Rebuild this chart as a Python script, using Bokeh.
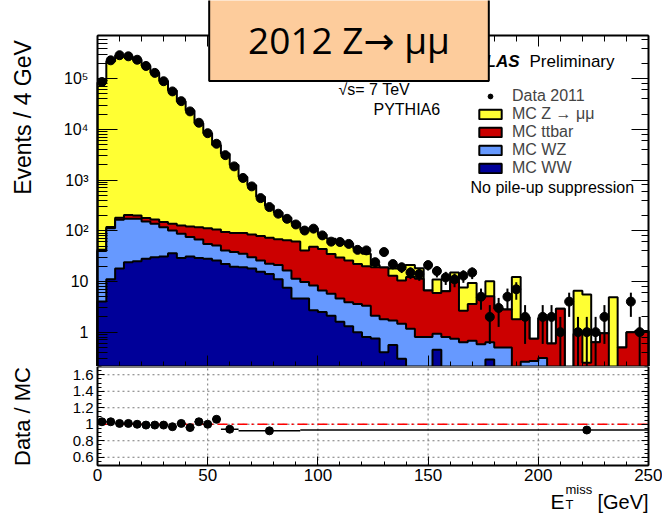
import numpy as np
from bokeh.plotting import figure
from bokeh.layouts import column
from bokeh.models import (Range1d, LogAxis, LinearAxis, FixedTicker,
                          SingleIntervalTicker, CustomJSTickFormatter, Label, Legend,
                          LegendItem)
from bokeh.embed import file_html
from bokeh.resources import INLINE

# ---------------- data ----------------
bin_edges = list(range(0, 253, 4))  # 4 GeV bins, 0..252

mc_zmumu = [84000, 220000, 285000, 273000, 236000, 180000, 131000, 90000, 58000, 35500,
            23500, 13100, 8300, 4800, 3200, 1900, 1060, 706, 391, 238, 162, 115, 79, 64,
            64, 41, 35, 32, 30, 23, 15, 2, 0, 5, 10.5, 9, 7, 0, 5, 0, 5.3, 5, 5.7, 0, 5,
            0, 0, 10.4, 0, 0, 0, 0, 0, 0, 5.6, 5.25, 0, 0, 4.9, 0, 0, 0, 0]
mc_ttbar = [2, 6, 15, 32, 27, 26, 29, 31, 36, 40, 46, 50, 57, 55, 53, 52, 55, 54, 53, 50,
            47, 48.5, 50, 31, 40, 37, 29, 25, 22, 18.4, 16.7, 17, 17, 11.3, 9, 11, 10.5,
            5.8, 5.0, 5.6, 9.0, 2.0, 2.9, 4.3, 4.5, 2.4, 2.3, 1.8, 1.74, 0.47, 1.6, 0.6,
            2.9, 0, 0.93, 0.25, 0.63, 0.95, 0, 0.5, 1.0, 1.05, 1.05]
mc_wz = [36, 101, 147, 149, 148, 124, 107, 86, 65, 58, 44, 38, 27, 25, 19, 18.5, 16, 12,
         10.4, 8.4, 10, 9, 6.7, 5.1, 5.6, 4.1, 3.6, 3.0, 2.6, 2.6, 2.5, 1.35, 1.4, 1.14,
         1.16, 1.17, 0.8, 0.8, 0.48, 0.8, 0.74, 0.63, 0.68, 0.58, 0.34, 0.5, 0.5, 0, 0.26,
         0.27, 0.31, 0, 0, 0, 0, 0, 0, 0, 0, 0, 0, 0, 0]
mc_ww = [4, 11, 18, 24, 25, 28, 30, 31, 36, 29, 31, 29, 28, 26, 22, 19.5, 19, 18, 15.6, 14,
         11, 7.5, 4.6, 4.6, 2.7, 2.5, 2.1, 1.6, 1.3, 1.0, 0.8, 0.75, 0.4, 0.56, 0.3, 0, 0,
         0, 0.45, 0, 0, 0, 0, 0, 0.29, 0, 0, 0, 0, 0, 0, 0, 0, 0, 0, 0, 0, 0, 0, 0, 0, 0, 0]
data_2011 = [86000, 230000, 290000, 276000, 236000, 178000, 130000, 89000, 56000, 36000,
             22600, 13500, 8400, 5200, 3100, 1860, 1100, 750, 440, 293, 217, 172, 133, 101,
             110, 81, 61, 60, 55, 42, 41, 24, 38, 22, 19, 15, 14, 21, 16, 12, 11, 13, 15, 5,
             2, 3, 5, 7, 2, 0, 2, 2, 1, 4, 1, 1, 1, 2, 0, 0, 4, 1, 0]

ratio_edges = [0, 4, 8, 12, 16, 20, 24, 28, 32, 36, 40, 44, 48, 52, 56, 64, 92, 352]
ratio_vals = [1.03, 1.03, 1.01, 1.01, 1.00, 0.99, 0.99, 0.99, 0.97, 1.01, 0.96, 1.03, 1.00,
              1.06, 0.94, 0.92, 0.93]

x_grid_ticks = [50, 100, 150, 200]
ratio_ticks = [0.6, 0.8, 1.0, 1.2, 1.4, 1.6]
ratio_minor = [0.5, 0.55, 0.6, 0.65, 0.7, 0.75, 0.8, 0.85, 0.9, 0.95, 1.0, 1.05, 1.1, 1.15,
               1.2, 1.25, 1.3, 1.35, 1.4, 1.45, 1.5, 1.55, 1.6, 1.65, 1.7]

legend_labels = ["Data 2011", "MC Z \u2192 \u03bc\u03bc", "MC ttbar", "MC WZ", "MC WW"]

C_Z, C_TT, C_WZ, C_WW = "#ffff33", "#cc0000", "#6699ff", "#000099"
FONT = "Liberation Sans"
FLOOR = 1e-3

# visible box limits of the two panels
X_BOX = (0, 250)
Y_MAIN = (0.21, 7.1e5)
Y_RATIO = (0.5, 1.7)

edges = np.minimum(np.array(bin_edges, dtype=float), X_BOX[1])
ww = np.array(mc_ww, dtype=float)
wz = np.array(mc_wz, dtype=float)
tt = np.array(mc_ttbar, dtype=float)
zz = np.array(mc_zmumu, dtype=float)
top_ww = ww
top_wz = ww + wz
top_tt = top_wz + tt
top_z = top_tt + zz


def outline(tops):
    xs, ys = [edges[0]], [FLOOR]
    for i, t in enumerate(tops):
        tv = t if t > 0 else FLOOR
        xs += [edges[i], edges[i + 1]]
        ys += [tv, tv]
    xs.append(edges[-1])
    ys.append(FLOOR)
    return xs, ys


EMPTY = CustomJSTickFormatter(code="return '';")


def style_axis(ax, tin, tmin, labels=True, size="16px", standoff=0):
    ax.major_tick_in = tin
    ax.major_tick_out = 0
    ax.minor_tick_in = tmin
    ax.minor_tick_out = 0
    ax.axis_line_color = "black"
    ax.axis_line_width = 2
    ax.major_tick_line_color = "black"
    ax.minor_tick_line_color = "black"
    ax.major_label_standoff = standoff
    if labels:
        ax.major_label_text_font = FONT
        ax.major_label_text_font_size = size
        ax.major_label_text_color = "black"
    else:
        ax.formatter = EMPTY
        ax.major_label_text_font_size = "1px"


def lab(fig, x, y, text, size, **kw):
    font = kw.pop("font", FONT)
    fig.add_layout(Label(x=x, y=y, x_units="screen", y_units="screen", text=text,
                         text_font=font, text_font_size=size, text_color="black", **kw))


# Both frames span the whole page width (x = 0 GeV at page x = 97, 250 GeV at x = 648),
# so axis titles and tick labels are drawn inside the frames; axis bounds draw the box.
XR = Range1d(-44.01, 256.35)

# ---------------- main panel ----------------
p = figure(width=662, height=366, x_range=XR, y_range=Range1d(0.21, 3.48e6),
           y_axis_type="log", output_backend="svg", toolbar_location=None,
           min_border_left=0, min_border_right=0, min_border_top=0, min_border_bottom=0)
p.xgrid.grid_line_color = None
p.ygrid.grid_line_color = None
p.outline_line_color = None
p.background_fill_color = "white"

layer_r = []
for tops, col in [(top_z, C_Z), (top_tt, C_TT), (top_wz, C_WZ), (top_ww, C_WW)]:
    xs, ys = outline(tops)
    layer_r.append(p.patch(xs, ys, fill_color=col, line_color="black", line_width=2))

dat = np.array(data_2011, dtype=float)
centers = 0.5 * (np.array(bin_edges[:-1], float) + np.array(bin_edges[1:], float))
m = dat > 0
err = np.sqrt(dat[m])
lo = np.clip(dat[m] - err, FLOOR, None)
hi = dat[m] + err
p.segment(x0=centers[m], y0=lo, x1=centers[m], y1=hi, line_color="black", line_width=2)
r_data = p.scatter(centers[m], dat[m], size=9, color="black")

yl = p.yaxis[0]
yl.fixed_location = X_BOX[0]
yl.bounds = Y_MAIN
style_axis(yl, 20, 10, labels=True, size="16px", standoff=9)
yl.formatter = CustomJSTickFormatter(code="""
const e = Math.round(Math.log10(tick));
const sup = {2: "\u00b2", 3: "\u00b3", 4: "\u2074", 5: "\u2075", 6: "\u2076"};
if (e == 0) return "1";
if (e == 1) return "10";
if (e < 0) return "";
return "10" + sup[e];
""")

yr = LogAxis(bounds=Y_MAIN, fixed_location=X_BOX[1])
style_axis(yr, 17, 7, labels=False)
p.add_layout(yr, "right")

xb = p.xaxis[0]
xb.ticker = SingleIntervalTicker(interval=50, num_minor_ticks=5)
xb.fixed_location = Y_MAIN[0]
xb.bounds = X_BOX
style_axis(xb, 11, 5, labels=False)

xtop = LinearAxis(ticker=SingleIntervalTicker(interval=50, num_minor_ticks=5),
                  fixed_location=Y_MAIN[1], bounds=X_BOX)
style_axis(xtop, 11, 6, labels=False)
p.add_layout(xtop, "above")

legend = Legend(items=[LegendItem(label=legend_labels[0], renderers=[r_data]),
                       LegendItem(label=legend_labels[1], renderers=[layer_r[0]]),
                       LegendItem(label=legend_labels[2], renderers=[layer_r[1]]),
                       LegendItem(label=legend_labels[3], renderers=[layer_r[2]]),
                       LegendItem(label=legend_labels[4], renderers=[layer_r[3]])],
                location=(476, 189), padding=0, margin=0, spacing=0,
                glyph_width=28, glyph_height=12, label_standoff=8, label_height=17,
                label_text_font=FONT, label_text_font_size="16px",
                border_line_color=None, background_fill_alpha=0)
p.add_layout(legend)

# texts: frame bottom-left = page (0, 366)
lab(p, 22, 249, "Events / 4 GeV", "23px", angle=np.pi / 2, text_align="center",
    text_baseline="middle")
lab(p, 519, 305, "ATLAS", "17px", text_font_style="bold italic", text_align="right",
    text_baseline="alphabetic")
lab(p, 529, 305, "Preliminary", "17px", text_align="left", text_baseline="alphabetic")
lab(p, 338, 277, "\u221as= 7 TeV", "16px", text_baseline="alphabetic")
lab(p, 373, 257, "PYTHIA6", "16px", text_baseline="alphabetic")
lab(p, 470, 179, "No pile-up suppression", "16px", text_baseline="alphabetic")

NB = "\u00a0\u00a0\u200a"
title = Label(x=348.5, y=327, x_units="screen", y_units="screen",
              text=NB + "2012 Z\u2192 \u03bc\u03bc" + NB,
              text_font="'Open Sans', 'DejaVu Sans'",
              text_font_size="37px", text_color="black", text_align="center",
              text_baseline="middle", background_fill_color="#fdcc9c",
              border_line_color="black", border_line_width=2, padding=16)
p.add_layout(title)

# ---------------- ratio panel ----------------
r = figure(width=662, height=147, x_range=XR, y_range=Range1d(-0.0818, 1.7),
           output_backend="svg", toolbar_location=None,
           min_border_left=0, min_border_right=0, min_border_top=0, min_border_bottom=0)
r.outline_line_color = None
r.xgrid.grid_line_color = None
r.ygrid.grid_line_color = None
r.background_fill_color = "white"

n_g = len(x_grid_ticks)
r.segment(x0=x_grid_ticks, y0=[Y_RATIO[0]] * n_g, x1=x_grid_ticks, y1=[Y_RATIO[1]] * n_g,
          line_color="#777777", line_dash="2 3", line_width=1)
n_h = len(ratio_ticks)
r.segment(x0=[X_BOX[0]] * n_h, y0=ratio_ticks, x1=[X_BOX[1]] * n_h, y1=ratio_ticks,
          line_color="#777777", line_dash="2 3", line_width=1)
r.line(x=list(X_BOX), y=[1, 1], line_color="red", line_width=1.5, line_dash="10 4 2 4")

yt = FixedTicker(ticks=ratio_ticks, minor_ticks=ratio_minor)

rx = r.xaxis[0]
rx.ticker = SingleIntervalTicker(interval=50, num_minor_ticks=5)
rx.fixed_location = Y_RATIO[0]
rx.bounds = X_BOX
style_axis(rx, 9, 4, labels=True, size="17px", standoff=3)

rtop = LinearAxis(ticker=SingleIntervalTicker(interval=50, num_minor_ticks=5),
                  fixed_location=Y_RATIO[1], bounds=X_BOX)
style_axis(rtop, 0, 0, labels=False)
r.add_layout(rtop, "above")

ry = r.yaxis[0]
ry.ticker = yt
ry.fixed_location = X_BOX[0]
ry.bounds = Y_RATIO
style_axis(ry, 7, 4, labels=True, size="15px", standoff=4)
ry.formatter = CustomJSTickFormatter(code="return Math.abs(tick - 1) < 1e-9 ? '1' : tick.toFixed(1);")

ryr = LinearAxis(ticker=yt, bounds=Y_RATIO, fixed_location=X_BOX[1])
style_axis(ryr, 7, 4, labels=False)
r.add_layout(ryr, "right")

re = np.array(ratio_edges, dtype=float)
rv = np.array(ratio_vals, dtype=float)
rc = 0.5 * (re[:-1] + re[1:])
r.segment(x0=re[:-1], y0=rv, x1=np.minimum(re[1:], X_BOX[1]), y1=rv, line_color="black",
          line_width=1.5)
r.scatter(rc, rv, size=8, color="black")

# texts: frame bottom-left = page (0, 513)
lab(r, 22, 97, "Data / MC", "22px", angle=np.pi / 2, text_align="center",
    text_baseline="middle")
lab(r, 550, 12, "E", "21px", text_baseline="alphabetic")
lab(r, 565, 9, "T", "13px", text_baseline="alphabetic")
lab(r, 565, 24, "miss", "13px", text_baseline="alphabetic")
lab(r, 597, 12, "[GeV]", "20px", text_baseline="alphabetic")

layout = column(p, r, spacing=0)
open("out.html", "w").write(file_html(layout, INLINE))
